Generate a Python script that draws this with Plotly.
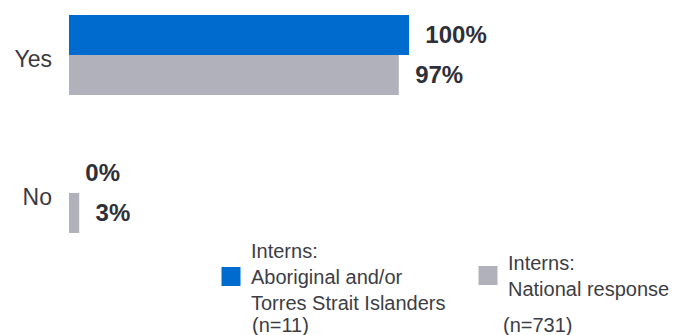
import plotly.graph_objects as go

categories = ["Yes", "No"]
aboriginal_values = [100, 0]
national_values = [97, 3]
series_names = ["Interns:<br>Aboriginal and/or<br>Torres Strait Islanders",
                "Interns:<br>National response"]
sample_sizes = ["(n=11)", "(n=731)"]

BLUE = "#006BCE"
GRAY = "#B1B1BB"
TEXT = "#2f2f39"
TICK_TEXT = "#3a3a42"
LEG_TEXT = "#3d3d44"
FONT = "Liberation Sans, Arial, sans-serif"

ML, MR, MT, MB = 69, 12, 10, 95
PLOT_W = 681 - ML - MR          # 600 px
X_MAX = 100 * PLOT_W / 340      # 100% spans 340 px

fig = go.Figure()
for vals, color, name, leg in [(aboriginal_values, BLUE, series_names[0], "legend"),
                               (national_values, GRAY, series_names[1], "legend2")]:
    fig.add_trace(go.Bar(
        y=categories, x=vals, orientation="h", name=name,
        marker=dict(color=color, line=dict(width=0)),
        texttemplate="  %{x}%", textposition="outside",
        textfont=dict(family=FONT, size=24, color=TEXT, weight="bold"),
        constraintext="none", cliponaxis=False, showlegend=False,
        hoverinfo="skip",
    ))
    # legend entry with a larger square symbol
    fig.add_trace(go.Scatter(
        x=[None], y=[None], mode="markers", name=name,
        marker=dict(symbol="square", size=16, color=color,
                    line=dict(width=3, color=color)),
        showlegend=True, hoverinfo="skip", legend=leg,
    ))

leg_common = dict(orientation="v", xref="container", yref="container",
                  xanchor="left", yanchor="top",
                  font=dict(family=FONT, size=20, color=LEG_TEXT),
                  bgcolor="rgba(0,0,0,0)", borderwidth=0, valign="middle")

fig.update_layout(
    width=681, height=335,
    margin=dict(l=ML, r=MR, t=MT, b=MB, autoexpand=False),
    paper_bgcolor="white", plot_bgcolor="white",
    barmode="group", bargap=0.42, bargroupgap=0,
    font=dict(family=FONT, color=TEXT),
    xaxis=dict(range=[0, X_MAX], visible=False, showgrid=False, zeroline=False,
               automargin=False),
    yaxis=dict(categoryorder="array", categoryarray=categories,
               range=[1.341, -0.326], showgrid=False, zeroline=False,
               showline=False, ticks="", ticklabelstandoff=16,
               ticklabelshift=-4, automargin=False,
               tickfont=dict(family=FONT, size=23, color=TICK_TEXT)),
    legend=dict(x=211/681, y=1-231/335, **leg_common),
    legend2=dict(x=468/681, y=1-243/335, **leg_common),
)

plot_h = 335 - MT - MB
for i, label in enumerate(sample_sizes):
    fig.add_annotation(
        text=label, xref="paper", yref="paper",
        x=([250, 501][i] - ML) / PLOT_W, y=(335 - MB - 325) / plot_h,
        xanchor="left", yanchor="middle", showarrow=False,
        font=dict(family=FONT, size=20, color=LEG_TEXT),
    )

fig.write_html("out.html", config={"displayModeBar": False},
               post_script="document.body.style.margin='0';")
